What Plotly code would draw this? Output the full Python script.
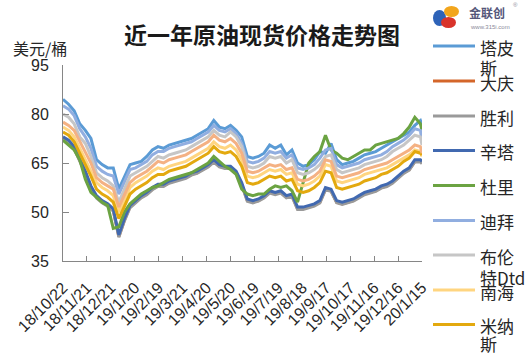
import plotly.graph_objects as go

# ---------------- data ----------------
dates = [
    "2018-10-22", "2018-10-29", "2018-11-05", "2018-11-12", "2018-11-19", "2018-11-26",
    "2018-12-03", "2018-12-10", "2018-12-17", "2018-12-24", "2018-12-31", "2019-01-07",
    "2019-01-14", "2019-01-21", "2019-01-28", "2019-02-04", "2019-02-11", "2019-02-18",
    "2019-02-25", "2019-03-04", "2019-03-11", "2019-03-18", "2019-03-25", "2019-04-01",
    "2019-04-08", "2019-04-15", "2019-04-22", "2019-04-29", "2019-05-06", "2019-05-13",
    "2019-05-20", "2019-05-27", "2019-06-03", "2019-06-10", "2019-06-17", "2019-06-24",
    "2019-07-01", "2019-07-08", "2019-07-15", "2019-07-22", "2019-07-29", "2019-08-05",
    "2019-08-12", "2019-08-19", "2019-08-26", "2019-09-02", "2019-09-09", "2019-09-16",
    "2019-09-23", "2019-09-30", "2019-10-07", "2019-10-14", "2019-10-21", "2019-10-28",
    "2019-11-04", "2019-11-11", "2019-11-18", "2019-11-25", "2019-12-02", "2019-12-09",
    "2019-12-16", "2019-12-23", "2019-12-30", "2020-01-06", "2020-01-13", "2020-01-15",
]

tapis = [84.5, 83, 81, 77, 75, 72.5, 66, 64.5, 63.5, 63.5, 57, 60.5, 64.5, 65, 65.5, 67, 69, 70,
         69.5, 70.5, 71, 71.5, 72, 72.5, 73.5, 74.5, 75.5, 78, 76, 75.5, 76.5, 75, 73, 67, 66.5, 67,
         68, 70.5, 69.5, 70.5, 67.5, 69, 65, 64, 64.5, 66, 68.5, 68, 71, 66, 64.5, 65, 65.5, 66.5,
         67.5, 68, 68.5, 69.5, 70.5, 71.5, 72.5, 73.5, 74.5, 76.5, 78, 76.5]
daqing = [72.6, 71.5, 69.6, 66, 62, 57.5, 54.6, 53, 52, 50.5, 42.5, 47.5, 51.6, 53, 54.5, 55.5, 57, 58,
          58, 59, 59.5, 60, 60.6, 61.5, 62, 63, 64, 65.5, 64, 63.5, 63.5, 62, 58.5, 53.5, 53, 53.5,
          54.5, 56, 55.5, 56, 54.5, 55, 51, 51, 51.5, 52, 53, 57, 56.5, 53, 52.5, 53, 53.5, 54.5,
          55.5, 56, 56.5, 57.5, 58, 59, 60.5, 62, 63, 65.5, 65.5, 65]
shengli = [72.3, 71.3, 69.3, 65.8, 61.8, 57.3, 54.3, 52.8, 51.8, 50.3, 42.3, 47.3, 51.3, 52.8, 54.3, 55.3,
           56.8, 57.8, 57.8, 58.8, 59.3, 59.8, 60.3, 61.3, 61.8, 62.8, 63.8, 65.3, 63.8, 63.3, 63.3, 61.8,
           58.3, 53.3, 52.8, 53.3, 54.3, 55.8, 55.3, 55.8, 54.3, 54.8, 50.8, 50.8, 51.3, 51.8, 52.8, 56.8,
           56.3, 52.8, 52.3, 52.8, 53.3, 54.3, 55.3, 55.8, 56.3, 57.3, 57.8, 58.8, 60.3, 61.8, 62.8, 65.3,
           65.3, 64.8]
sinta = [73, 72, 70, 66.5, 62.5, 58, 55, 53.5, 52.5, 51, 43, 48, 52, 53.5, 55, 56, 57.5, 58.5, 58.5,
         59.5, 60, 60.5, 61, 62, 62.5, 63.5, 64.5, 66, 64.5, 64, 64, 62.5, 59, 54, 53.5, 54, 55, 56.5,
         56, 56.5, 55, 55.5, 51.5, 51.5, 52, 52.5, 53.5, 57.5, 57, 53.5, 53, 53.5, 54, 55, 56, 56.5,
         57, 58, 58.5, 59.5, 61, 62.5, 63.5, 66, 66, 65.5]
duri = [72, 70.5, 69, 66, 60, 56, 54.5, 53, 52, 45, 45.5, 50, 52.5, 54, 55.5, 56.5, 57.5, 58, 59, 60,
        60.5, 61, 61.5, 62, 63, 64, 65, 67, 65.5, 64, 63, 61.5, 57, 55.5, 55, 55.5, 55.5, 57, 58, 57.5,
        58, 56.5, 53, 59, 65, 67, 68.5, 73.5, 69, 68, 66.5, 66, 67, 68, 69, 69, 70.5, 71, 71.5, 72,
        72.5, 74, 76, 79, 77, 75]
dubai = [82.5, 81.5, 79.5, 75.5, 73, 69.5, 64, 62.5, 61.5, 61, 55.5, 59, 63, 63.5, 64.5, 65.5, 67.5,
         68.5, 68.5, 69.5, 70, 70.5, 71, 71.5, 72.5, 73.5, 74.5, 76.5, 75, 74.5, 75.5, 74, 71, 65.5,
         65, 65.5, 66.5, 68.5, 68, 68.5, 66.5, 67.5, 63.5, 63, 63.5, 64.5, 66.5, 69, 69.5, 64.5, 63.5,
         64, 64.5, 65, 66, 66.5, 67, 67.5, 68.5, 70, 71, 72, 73.5, 75.5, 75, 71.5]
brent_dtd = [80, 79, 77, 73, 71, 67, 62, 60.5, 59.5, 58, 53, 57, 61, 62, 63, 64, 65.5, 67, 66.5, 67.5,
             68, 68.5, 69, 70, 71, 72, 73, 75, 73.5, 73, 74.5, 73, 70, 64, 63.5, 64, 65, 67, 66.5, 67,
             65, 66, 62, 61.5, 62, 63, 64.5, 67, 67.5, 63, 62, 62.5, 63, 63.5, 64.5, 65, 65.5, 66, 67,
             68.5, 69.5, 70.5, 72, 73.5, 73, 70.5]
nanhai = [76, 75, 73, 69.5, 66.5, 63, 59, 57.5, 56.5, 55, 50, 53.5, 57.5, 59, 60, 61, 62.5, 63.5, 63, 64,
          64.5, 65, 65.5, 66.5, 67.5, 68.5, 69.5, 71.5, 70, 69.5, 70.5, 69, 66, 61, 60.5, 61, 62, 63,
          62.5, 63, 61.5, 62, 58.5, 58, 58.5, 59.5, 61, 64.5, 64, 59.5, 59, 59.5, 60, 60.5, 61.5, 62,
          62.5, 63, 63.5, 64.5, 65.5, 66.5, 67.5, 69, 68.5, 67]
minas = [74.5, 73.5, 71.5, 68, 65, 61, 57, 55.5, 54.5, 53, 48, 51.5, 55.5, 57, 58, 59, 60.5, 61.5, 61.5,
         62.5, 63, 63.5, 64, 65, 66, 67, 68, 70, 68.5, 68, 68.5, 67, 64, 59, 58.5, 59, 60, 61, 60.5, 61,
         59.5, 60, 56.5, 56, 56.5, 57.5, 59, 62.5, 62, 57.5, 57, 57.5, 58, 58.5, 59.5, 60, 60.5, 61.5,
         62, 63, 64, 65.5, 66.5, 68.5, 68, 67.5]
# tenth series (its legend entry is cut off in the original)
tenth = [77.5, 76.5, 75, 71.5, 68.5, 65, 60.5, 59, 58, 57, 51.5, 55, 59, 60.5, 61.5, 62.5, 64, 65.5, 65,
         66, 66.5, 67, 67.5, 68.5, 69.5, 70.5, 71.5, 73.5, 72, 71.5, 72.5, 71, 68, 62.5, 62, 62.5, 63.5,
         64.5, 64, 64.5, 63, 63.5, 60, 59.5, 60, 61, 62.5, 66, 65.5, 61, 60.5, 61, 61.5, 62, 63, 63.5,
         64, 64.5, 65, 66, 67, 68, 69, 70.5, 70, 68]

series_names = ["塔皮斯", "大庆", "胜利", "辛塔", "杜里", "迪拜", "布伦特Dtd", "南海", "米纳斯"]
series_values = [tapis, daqing, shengli, sinta, duri, dubai, brent_dtd, nanhai, minas]
legend_lines = [["塔皮", "斯"], ["大庆"], ["胜利"], ["辛塔"], ["杜里"], ["迪拜"],
                ["布伦", "特Dtd"], ["南海"], ["米纳", "斯"]]

tick_dates = ["2018-10-22", "2018-11-21", "2018-12-21", "2019-01-20", "2019-02-19", "2019-03-21",
              "2019-04-20", "2019-05-20", "2019-06-19", "2019-07-19", "2019-08-18", "2019-09-17",
              "2019-10-17", "2019-11-16", "2019-12-16", "2020-01-15"]
tick_labels = ["18/10/22", "18/11/21", "18/12/21", "19/1/20", "19/2/19", "19/3/21", "19/4/20",
               "19/5/20", "19/6/19", "19/7/19", "19/8/18", "19/9/17", "19/10/17", "19/11/16",
               "19/12/16", "20/1/15"]
y_ticks = [35, 50, 65, 80, 95]

title_text = "近一年原油现货价格走势图"
unit_text = "美元/桶"

# ---------------- styles ----------------
colors = ["#5B9BD5", "#D4662A", "#9A9A9A", "#4169B0", "#6BA342", "#91AEE0", "#C6C6C6", "#FFD580", "#E3A90F"]
tenth_color = "#F4B183"
CJK = "Noto Sans CJK SC"
NUM = "Liberation Sans, Arial, sans-serif"

W, H = 532, 354
L, R, T, B = 63, 422, 65, 261  # plot area in pixels


def px(x):
    return (x - L) / (R - L)


def py(y):
    return (B - y) / (B - T)


fig = go.Figure()
for name, vals, col in zip(series_names, series_values, colors):
    fig.add_trace(go.Scatter(x=dates, y=vals, mode="lines", name=name,
                             line=dict(color=col, width=3), showlegend=False))
fig.add_trace(go.Scatter(x=dates, y=tenth, mode="lines", name="其他",
                         line=dict(color=tenth_color, width=3), showlegend=False))

shapes = []
annotations = []

# manual legend (mimicking the narrow, wrapped legend of the original)
leg_y = [46, 81, 116, 150.5, 185.5, 220.5, 255, 290, 324.5]
for i, (lines, col) in enumerate(zip(legend_lines, colors)):
    y0 = leg_y[i]
    shapes.append(dict(type="line", xref="paper", yref="paper",
                       x0=px(433), x1=px(475), y0=py(y0), y1=py(y0),
                       line=dict(color=col, width=3)))
    for j, t in enumerate(lines):
        gap = 21 if i < 8 else 18
        annotations.append(dict(text=t, xref="paper", yref="paper", x=px(478), y=py(y0 + 1 + gap * j),
                                xanchor="left", yanchor="middle", showarrow=False,
                                font=dict(family=CJK, size=17, color="#262626")))

# title and unit
annotations.append(dict(text="<b>" + title_text + "</b>", xref="paper", yref="paper",
                        x=px(262), y=py(34), xanchor="center", yanchor="middle", showarrow=False,
                        font=dict(family=CJK, size=23, color="#1a1a1a")))
annotations.append(dict(text=unit_text, xref="paper", yref="paper", x=px(11), y=py(48),
                        xanchor="left", yanchor="middle", showarrow=False,
                        font=dict(family=CJK, size=16, color="#262626")))

# logo approximation
shapes.append(dict(type="circle", xref="paper", yref="paper", x0=px(433), x1=px(446), y0=py(26), y1=py(10),
                   fillcolor="#2E63B8", line=dict(width=0)))
shapes.append(dict(type="circle", xref="paper", yref="paper", x0=px(444), x1=px(459), y0=py(17), y1=py(6),
                   fillcolor="#F2A51C", line=dict(width=0)))
shapes.append(dict(type="circle", xref="paper", yref="paper", x0=px(441), x1=px(456), y0=py(28), y1=py(17),
                   fillcolor="#D9342B", line=dict(width=0)))
annotations.append(dict(text="<b>金联创</b>", xref="paper", yref="paper", x=px(467), y=py(13),
                        xanchor="left", yanchor="middle", showarrow=False,
                        font=dict(family=CJK, size=12, color="#55577A")))
annotations.append(dict(text="www.315i.com", xref="paper", yref="paper", x=px(468), y=py(27),
                        xanchor="left", yanchor="middle", showarrow=False,
                        font=dict(family=NUM, size=6, color="#8A8A9A")))
annotations.append(dict(text="®", xref="paper", yref="paper", x=px(511), y=py(5),
                        xanchor="left", yanchor="middle", showarrow=False,
                        font=dict(family=NUM, size=6, color="#8A8A9A")))

fig.update_layout(
    width=W, height=H,
    margin=dict(l=L, r=W - R, t=T, b=H - B, pad=0),
    paper_bgcolor="white", plot_bgcolor="white",
    showlegend=False,
    shapes=shapes, annotations=annotations,
    xaxis=dict(type="date", range=[tick_dates[0], tick_dates[-1]],
               tickmode="array", tickvals=tick_dates, ticktext=tick_labels, tickangle=-45,
               ticks="inside", ticklen=5, tickcolor="#868686", showline=True, linecolor="#868686",
               linewidth=1, showgrid=False, zeroline=False, ticklabelstandoff=10,
               tickfont=dict(family=NUM, size=16, color="#262626")),
    yaxis=dict(range=[35, 95], tickmode="array", tickvals=y_ticks,
               ticks="inside", ticklen=6, tickcolor="#868686", showline=True, linecolor="#868686",
               linewidth=1, showgrid=False, zeroline=False, ticklabelstandoff=10,
               tickfont=dict(family=NUM, size=16, color="#262626")),
)

fig.write_html("out.html")
